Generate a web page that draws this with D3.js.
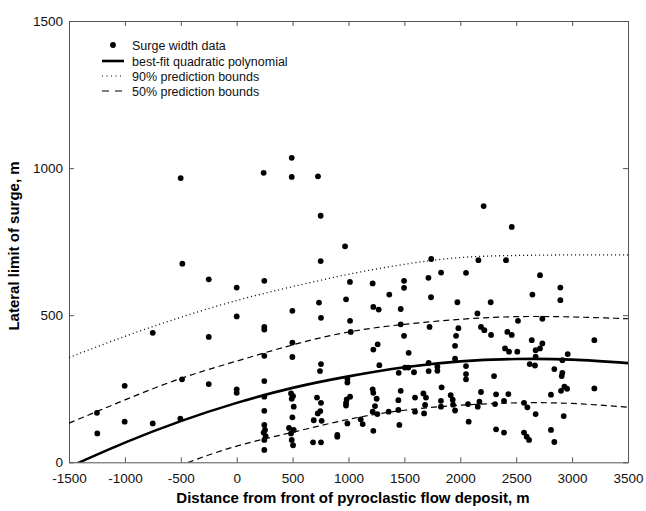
<!DOCTYPE html>
<html>
<head>
<meta charset="utf-8">
<script src="https://cdn.jsdelivr.net/npm/d3@7"></script>
<style>
  body { margin: 0; background: #fff; }
  svg { font-family: "Liberation Sans", Arial, sans-serif; }
</style>
</head>
<body>
<div id="chart"></div>
<script>
// surge width measurements [distance from flow front (m), lateral limit (m)]
const surgePoints = [
  [-1250,168],[-1247,98],[-1002,260],[-1002,138],[-751,440],[-751,132],
  [-501,966],[-486,675],[-489,282],[-504,148],[-250,622],[-250,426],[-250,266],
  [0,594],[0,496],[0,248],[0,236],
  [736,543],[754,491],[247,460],[247,451],[498,515],[498,407],[498,358],[247,362],
  [754,334],[745,310],[247,276],[247,223],[486,234],[504,225],[492,216],[510,189],
  [247,175],[498,153],[718,220],[754,202],[748,174],[725,166],[689,143],[760,141],
  [247,127],[253,110],[241,101],[259,89],[247,76],[468,117],[510,110],[486,98],
  [492,76],[504,58],[247,42],[683,68],[754,68],
  [492,1035],[241,984],[492,970],[727,972],[751,838],[969,734],[751,684],[247,617],
  [1013,613],[1216,608],[1497,617],[1497,593],[978,554],[1365,570],
  [1222,528],[1270,519],[1467,521],[1014,481],[1020,443],[1467,469],[1725,460],
  [1497,430],[1261,401],[1222,383],[1538,372],[1276,330],[1449,304],[1505,322],
  [1535,322],[1586,306],[1717,338],[1717,310],[990,283],[990,271],[1216,248],
  [1222,236],[1467,243],[1252,216],[1014,223],[984,214],[978,202],[978,193],
  [1446,211],[1595,220],[1670,234],[1693,220],[1237,191],[1216,172],[1258,164],
  [1359,172],[1446,178],[1595,172],[1685,195],[1676,166],[1109,146],[1127,130],
  [990,132],[1222,107],[1455,127],[900,93],[900,87],
  [1740,691],[2162,687],[2409,687],[1828,645],[2051,644],[1715,627],[1738,561],
  [1974,544],[2272,544],[2153,506],[2516,481],[1983,456],[1962,430],[1953,396],
  [2185,460],[2215,449],[2275,433],[2421,443],[2460,433],[2400,387],[2436,376],
  [2510,376],[1953,352],[1795,325],[1795,311],[2051,327],[2051,300],[2051,282],
  [2302,293],[1833,255],[1914,228],[1932,213],[1935,196],[1953,176],[1827,209],
  [1827,189],[2069,198],[2185,239],[2171,206],[2156,189],[2320,231],[2311,198],
  [2430,232],[2391,209],[2570,202],[2600,187],[2075,138],[2320,112],[2391,101],
  [2570,101],[2594,87],[2615,76],[2209,871],[2460,800],
  [2713,636],[2645,570],[2895,594],[2895,551],[2734,488],[2639,415],[2734,404],
  [2713,387],[2674,381],[2674,359],[2621,334],[2668,329],[2961,368],[2913,347],
  [2841,317],[2913,304],[2907,293],[2931,257],[2955,250],[2901,243],[3199,415],
  [3199,251],[2811,230],[2674,164],[2925,157],[2811,110],[2841,69]
];

// curves at every 500 m
const curveX     = [-1500, -1000, -500, 0, 500, 1000, 1500, 2000, 2500, 3000, 3500];
const fitY       = [-16, 67, 140, 202, 253, 292, 323, 343, 351, 349, 337];
const upper90Y   = [356, 428, 493, 550, 597, 639, 673, 696, 703, 705, 705];
const upper50Y   = [133, 212, 285, 344, 399, 443, 469, 486, 495, 494, 488];
const lower50Y   = [-180, -90, -10, 55, 102, 146, 177, 194, 202, 200, 187];

const xTicks = [-1500, -1000, -500, 0, 500, 1000, 1500, 2000, 2500, 3000, 3500];
const yTicks = [0, 500, 1000, 1500];

const legendItems = [
  { label: "Surge width data", type: "dot" },
  { label: "best-fit quadratic polynomial", type: "solid" },
  { label: "90% prediction bounds", type: "dotted" },
  { label: "50% prediction bounds", type: "dashed" }
];

const width = 646, height = 511;
const plot = { left: 69, right: 628, top: 21, bottom: 462.3 };
const axisColor = "#555";

const svg = d3.select("#chart").append("svg")
  .attr("width", width)
  .attr("height", height);

const x = d3.scaleLinear().domain([-1500, 3500]).range([plot.left, plot.right]);
const y = d3.scaleLinear().domain([0, 1500]).range([plot.bottom, plot.top]);

// plain numbers, ascii minus
const fmt = d => String(d);

// clip for the curves
svg.append("clipPath").attr("id", "plotClip")
  .append("rect")
  .attr("x", plot.left).attr("y", plot.top)
  .attr("width", plot.right - plot.left)
  .attr("height", plot.bottom - plot.top);

// axes (box with inward ticks)
const bottomAxis = svg.append("g")
  .attr("transform", `translate(0,${plot.bottom})`)
  .call(d3.axisBottom(x).tickValues(xTicks).tickFormat(fmt).tickSize(-5).tickSizeOuter(0).tickPadding(11));
const leftAxis = svg.append("g")
  .attr("transform", `translate(${plot.left},0)`)
  .call(d3.axisLeft(y).tickValues(yTicks).tickFormat(fmt).tickSize(-5).tickSizeOuter(0).tickPadding(6));
const topAxis = svg.append("g")
  .attr("transform", `translate(0,${plot.top})`)
  .call(d3.axisTop(x).tickValues(xTicks).tickSize(-5).tickSizeOuter(0).tickFormat(""));
const rightAxis = svg.append("g")
  .attr("transform", `translate(${plot.right},0)`)
  .call(d3.axisRight(y).tickValues(yTicks).tickSize(-5).tickSizeOuter(0).tickFormat(""));

[bottomAxis, leftAxis, topAxis, rightAxis].forEach(g => {
  g.selectAll("path, line").attr("stroke", axisColor).attr("stroke-width", 1);
  g.selectAll("text")
    .attr("fill", "#111")
    .style("font-size", "13.5px")
    .style("font-family", "'Liberation Sans', Arial, sans-serif");
});

// axis titles
svg.append("text")
  .attr("x", 353)
  .attr("y", 503)
  .attr("text-anchor", "middle")
  .style("font-size", "15px")
  .style("font-weight", "bold")
  .text("Distance from front of pyroclastic flow deposit, m");

svg.append("text")
  .attr("transform", "rotate(-90)")
  .attr("x", -246)
  .attr("y", 19)
  .attr("text-anchor", "middle")
  .style("font-size", "15px")
  .style("font-weight", "bold")
  .text("Lateral limit of surge, m");

// curves
const line = d3.line()
  .x(d => x(d[0]))
  .y(d => y(d[1]))
  .curve(d3.curveNatural);

const curves = svg.append("g").attr("clip-path", "url(#plotClip)");

function drawCurve(values, width, dash) {
  curves.append("path")
    .datum(curveX.map((cx, i) => [cx, values[i]]))
    .attr("d", line)
    .attr("fill", "none")
    .attr("stroke", "#000")
    .attr("stroke-width", width)
    .attr("stroke-dasharray", dash);
}

drawCurve(upper90Y, 1.3, "1,3");
drawCurve(upper50Y, 1.2, "6,4");
drawCurve(lower50Y, 1.2, "6,4");
drawCurve(fitY, 2.6, null);

// data points
svg.append("g")
  .selectAll("circle")
  .data(surgePoints)
  .join("circle")
  .attr("cx", d => x(d[0]))
  .attr("cy", d => y(d[1]))
  .attr("r", 2.9)
  .attr("fill", "#000");

// legend
const legend = svg.append("g");
const legendRow = [45, 61, 76, 91];
legendItems.forEach((item, i) => {
  const cy = legendRow[i];
  if (item.type === "dot") {
    legend.append("circle").attr("cx", 113).attr("cy", cy).attr("r", 2.9).attr("fill", "#000");
  } else {
    legend.append("line")
      .attr("x1", 102).attr("x2", 124)
      .attr("y1", cy).attr("y2", cy)
      .attr("stroke", "#000")
      .attr("stroke-width", item.type === "solid" ? 2.6 : 1.2)
      .attr("stroke-dasharray", item.type === "dotted" ? "1,3.5" : item.type === "dashed" ? "7,6" : null);
  }
  legend.append("text")
    .attr("x", 132)
    .attr("y", cy + 4.5)
    .style("font-size", "12.5px")
    .attr("fill", "#111")
    .text(item.label);
});
</script>
</body>
</html>
